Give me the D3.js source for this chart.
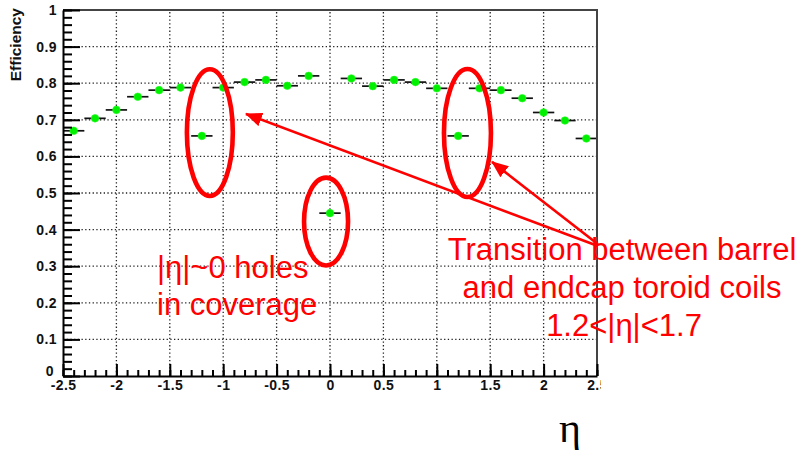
<!DOCTYPE html>
<html>
<head>
<meta charset="utf-8">
<script src="https://cdn.jsdelivr.net/npm/d3@7/dist/d3.min.js"></script>
<style>
  html, body { margin: 0; padding: 0; background: #fff; }
  svg { display: block; }
</style>
</head>
<body>
<svg id="chart" width="802" height="450"></svg>
<script>
// Muon trigger efficiency versus pseudorapidity, 0.2-wide eta bins
const etaBins = [-2.4, -2.2, -2.0, -1.8, -1.6, -1.4, -1.2, -1.0, -0.8, -0.6, -0.4, -0.2, 0.0,
                 0.2, 0.4, 0.6, 0.8, 1.0, 1.2, 1.4, 1.6, 1.8, 2.0, 2.2, 2.4];
const efficiency = [0.670, 0.704, 0.727, 0.763, 0.781, 0.788, 0.656, 0.788, 0.803, 0.809, 0.793, 0.820, 0.445,
                    0.813, 0.792, 0.809, 0.803, 0.786, 0.656, 0.786, 0.781, 0.759, 0.720, 0.698, 0.649];
const binWidth = 0.2;

const xTicks = [-2.5, -2, -1.5, -1, -0.5, 0, 0.5, 1, 1.5, 2, 2.5];
const xTickLabels = ["-2.5", "-2", "-1.5", "-1", "-0.5", "0", "0.5", "1", "1.5", "2", "2.5"];
const yTicks = [0, 0.1, 0.2, 0.3, 0.4, 0.5, 0.6, 0.7, 0.8, 0.9, 1];
const yTickLabels = ["0", "0.1", "0.2", "0.3", "0.4", "0.5", "0.6", "0.7", "0.8", "0.9", "1"];

// Highlighted regions (eta, efficiency units)
const holeRegions = [
  { cx: -1.125, cy: 0.665, rx: 0.215, ry: 0.173 },
  { cx: -0.037, cy: 0.422, rx: 0.206, ry: 0.120 },
  { cx: 1.287,  cy: 0.664, rx: 0.220, ry: 0.175 }
];
const pointers = [
  { from: [2.509, 0.355], to: [-0.787, 0.716] },
  { from: [2.509, 0.360], to: [1.517, 0.585] }
];

const svg = d3.select("#chart");
const x = d3.scaleLinear().domain([-2.5, 2.5]).range([63, 597]);
const y = d3.scaleLinear().domain([0, 1]).range([376, 10]);

const points = etaBins.map((e, i) => ({ eta: e, eff: efficiency[i] }));

// dotted grid at the major ticks
const grid = svg.append("g");
grid.selectAll("line.gx").data(xTicks.slice(1, -1)).join("line")
  .attr("x1", d => x(d)).attr("x2", d => x(d))
  .attr("y1", y(0)).attr("y2", y(1))
  .attr("stroke", "#222").attr("stroke-width", 1.3).attr("stroke-dasharray", "1.3,2.4");
grid.selectAll("line.gy").data(yTicks.slice(1, -1)).join("line")
  .attr("x1", x(-2.5)).attr("x2", x(2.5))
  .attr("y1", d => y(d)).attr("y2", d => y(d))
  .attr("stroke", "#222").attr("stroke-width", 1.3).attr("stroke-dasharray", "1.3,2.4");

// bin-width error bars
svg.append("g").selectAll("line").data(points).join("line")
  .attr("x1", d => x(d.eta - binWidth / 2)).attr("x2", d => x(d.eta + binWidth / 2))
  .attr("y1", d => y(d.eff)).attr("y2", d => y(d.eff))
  .attr("stroke", "#111").attr("stroke-width", 1.7);

// markers
svg.append("g").selectAll("circle").data(points).join("circle")
  .attr("cx", d => x(d.eta)).attr("cy", d => y(d.eff)).attr("r", 3.8)
  .attr("fill", "#00f000").attr("stroke", "#22ff22").attr("stroke-width", 0.6);

// frame (top and right)
svg.append("path")
  .attr("d", `M${x(-2.5)},${y(1)}H${x(2.5)}V${y(0)}`)
  .attr("fill", "none").attr("stroke", "#444").attr("stroke-width", 2);

// clip for the x labels at the picture edge
svg.append("clipPath").attr("id", "xlabclip")
  .append("rect").attr("x", 0).attr("y", 0).attr("width", 601).attr("height", 450);

const labelStyle = sel => sel
  .style("font-family", "'Liberation Sans', Arial, sans-serif")
  .style("font-weight", "bold").style("font-size", "14px")
  .style("letter-spacing", "0.4px").style("fill", "#111");

// x axis: minor then major ticks
const xAxisG = svg.append("g").attr("clip-path", "url(#xlabclip)");
xAxisG.append("g").attr("transform", `translate(0,${y(0)})`)
  .call(d3.axisBottom(x).tickValues(d3.range(-2.5, 2.51, 0.1)).tickSize(-6).tickSizeOuter(0).tickFormat(""))
  .call(g => g.select(".domain").remove());
xAxisG.append("g").attr("transform", `translate(0,${y(0)})`)
  .call(d3.axisBottom(x).tickValues(xTicks).tickSize(-12).tickSizeOuter(0).tickPadding(4)
        .tickFormat((d, i) => xTickLabels[i]))
  .call(g => g.select(".domain").attr("stroke-width", 2).attr("stroke", "#000"))
  .call(g => g.selectAll(".tick text").call(labelStyle));

// y axis: minor then major ticks
svg.append("g").attr("transform", `translate(${x(-2.5)},0)`)
  .call(d3.axisLeft(y).tickValues(d3.range(0, 1.001, 0.02)).tickSize(-9).tickSizeOuter(0).tickFormat(""))
  .call(g => g.select(".domain").remove());
svg.append("g").attr("transform", `translate(${x(-2.5)},0)`)
  .call(d3.axisLeft(y).tickValues(yTicks).tickSize(-17).tickSizeOuter(0).tickPadding(6)
        .tickFormat((d, i) => yTickLabels[i]))
  .call(g => g.select(".domain").attr("stroke-width", 2).attr("stroke", "#000"))
  .call(g => g.selectAll(".tick text").call(labelStyle))
  .call(g => g.selectAll(".tick text").filter(d => d === 0).attr("dy", "-0.05em").attr("x", -9));

svg.selectAll(".tick line").attr("stroke", "#000").attr("stroke-width", 2);

// axis titles
svg.append("text")
  .attr("transform", "translate(21,8) rotate(-90)")
  .attr("text-anchor", "end")
  .attr("font-family", "Liberation Sans, Arial, sans-serif")
  .attr("font-weight", "bold").attr("font-size", 15.5).attr("fill", "#111")
  .text("Efficiency");

svg.append("text")
  .attr("x", 570).attr("y", 442).attr("text-anchor", "middle")
  .attr("font-family", "Liberation Serif, Times New Roman, serif")
  .attr("font-size", 42).attr("fill", "#000")
  .text("η");

// annotations
const red = "#ff0000";
svg.append("defs").append("marker")
  .attr("id", "head").attr("markerUnits", "userSpaceOnUse")
  .attr("viewBox", "0 0 17 14").attr("markerWidth", 17).attr("markerHeight", 14)
  .attr("refX", 16).attr("refY", 7).attr("orient", "auto")
  .append("path").attr("d", "M0,0L17,7L0,14Z").attr("fill", red);

svg.append("g").selectAll("ellipse").data(holeRegions).join("ellipse")
  .attr("cx", d => x(d.cx)).attr("cy", d => y(d.cy))
  .attr("rx", d => x(d.cx + d.rx) - x(d.cx)).attr("ry", d => y(d.cy - d.ry) - y(d.cy))
  .attr("fill", "none").attr("stroke", red).attr("stroke-width", 4.6);

svg.append("g").selectAll("line").data(pointers).join("line")
  .attr("x1", d => x(d.from[0])).attr("y1", d => y(d.from[1]))
  .attr("x2", d => x(d.to[0])).attr("y2", d => y(d.to[1]))
  .attr("stroke", red).attr("stroke-width", 2.6).attr("marker-end", "url(#head)");

const note = svg.append("g")
  .attr("font-family", "Liberation Sans, Arial, sans-serif")
  .attr("font-size", 31).attr("fill", red);
note.append("text").attr("x", 157).attr("y", 278).text("|η|~0 holes");
note.append("text").attr("x", 157).attr("y", 315).text("in coverage");

const note2 = note.append("g").attr("text-anchor", "middle");
note2.append("text").attr("x", 622).attr("y", 260).text("Transition between barrel");
note2.append("text").attr("x", 622).attr("y", 298).text("and endcap toroid coils");
note2.append("text").attr("x", 624).attr("y", 336).text("1.2<|η|<1.7");
</script>
</body>
</html>
